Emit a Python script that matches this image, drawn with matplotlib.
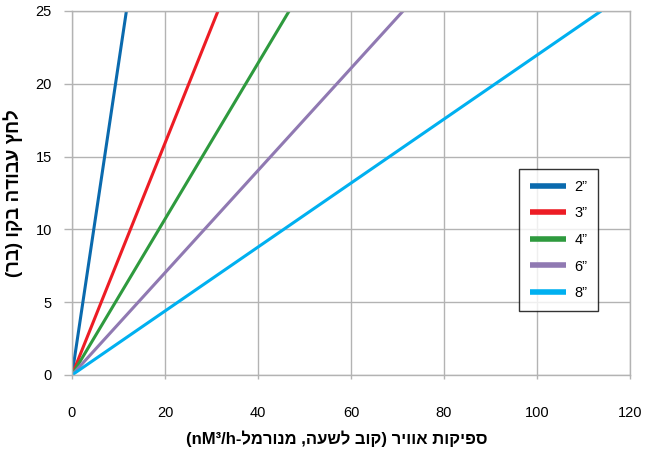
import re
import matplotlib
matplotlib.use('Agg')
import matplotlib.pyplot as plt

plt.rcParams['font.family'] = ['Liberation Sans', 'DejaVu Sans']

# Data: working pressure (bar) vs air flow for each pipe size
sizes = ['2”', '3”', '4”', '6”', '8”']
pressure = [0, 25]
flow_2 = [0, 11.7]
flow_3 = [0, 31.4]
flow_4 = [0, 46.7]
flow_6 = [0, 71.2]
flow_8 = [0, 113.8]
flows = [flow_2, flow_3, flow_4, flow_6, flow_8]
colors = ['#0a6aae', '#ed1c24', '#2e9a3e', '#9079b2', '#00b0f0']

x_ticks = [0, 20, 40, 60, 80, 100, 120]
y_ticks = [0, 5, 10, 15, 20, 25]

xlabel_logical = 'ספיקות אוויר (קוב לשעה, מנורמל-nM³/h)'
ylabel_logical = 'לחץ עבודה בקו (בר)'


def visual(s):
    # crude RTL reordering: reverse, mirror brackets, keep latin runs in order
    r = s[::-1].translate(str.maketrans('()', ')('))
    return re.sub(r'[A-Za-z0-9³/]+', lambda m: m.group(0)[::-1], r)


grid_color = '#b3b3b3'

fig = plt.figure(figsize=(6.46, 4.54), dpi=100)
ax = fig.add_axes([72 / 646, 79 / 454, 558 / 646, 364 / 454])

for f, c, name in zip(flows, colors, sizes):
    ax.plot(f, pressure, color=c, lw=2.2, label=name, solid_capstyle='butt')

ax.set_xlim(0, 120)
ax.set_ylim(0, 25)
ax.set_xticks(x_ticks)
ax.set_yticks(y_ticks)
ax.grid(True, color=grid_color, lw=1)
ax.set_axisbelow(True)
for sp in ax.spines.values():
    sp.set_color(grid_color)
    sp.set_linewidth(1)

ax.tick_params(axis='x', direction='out', length=3, width=1, color=grid_color,
               pad=19, labelsize=10.5)
ax.tick_params(axis='y', direction='out', length=5.5, width=1, color=grid_color,
               pad=9, labelsize=10.5)

ax.set_xlabel(visual(xlabel_logical), fontsize=12, fontweight='bold')
ax.xaxis.set_label_coords(0.475, -0.152)
ax.set_ylabel(visual(ylabel_logical), fontsize=13.5, fontweight='bold', labelpad=9)

leg = ax.legend(loc='upper left', bbox_to_anchor=(519 / 646, 1 - 169 / 454),
                bbox_transform=fig.transFigure, borderaxespad=0, fontsize=10.5,
                frameon=True, fancybox=False, edgecolor='black',
                handlelength=2.5, handletextpad=0.55, labelspacing=0.86,
                borderpad=0.75)
leg.get_frame().set_linewidth(1)
for h in leg.get_lines():
    h.set_linewidth(4)

fig.savefig('out.png', dpi=100)
